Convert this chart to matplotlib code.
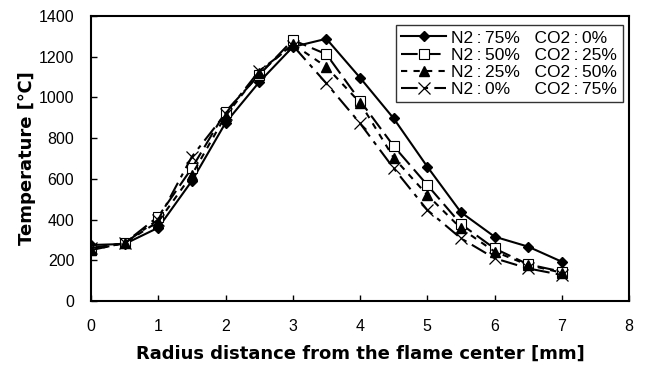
import numpy as np
import matplotlib
matplotlib.use("Agg")
import matplotlib.pyplot as plt

# radius positions [mm]
radius = [0, 0.5, 1, 1.5, 2, 2.5, 3, 3.5, 4, 4.5, 5, 5.5, 6, 6.5, 7]

# temperatures [C]
t_n75 = [275, 280, 360, 590, 875, 1075, 1248, 1288, 1097, 897, 660, 436, 316, 267, 193]
t_n50 = [250, 285, 415, 653, 930, 1110, 1282, 1212, 984, 761, 570, 378, 258, 180, 144]
t_n25 = [250, 285, 390, 620, 910, 1120, 1262, 1150, 974, 704, 521, 357, 243, 177, 139]
t_n0 = [260, 285, 400, 709, 920, 1130, 1255, 1069, 873, 652, 447, 308, 210, 160, 128]

sp = "\u2009"
labels = ["N2" + sp + ":" + sp + "75%   CO2" + sp + ":" + sp + "0%",
          "N2" + sp + ":" + sp + "50%   CO2" + sp + ":" + sp + "25%",
          "N2" + sp + ":" + sp + "25%   CO2" + sp + ":" + sp + "50%",
          "N2" + sp + ":" + sp + "0%     CO2" + sp + ":" + sp + "75%"]

plt.rcParams['font.family'] = ['Liberation Sans', 'DejaVu Sans']

fig = plt.figure(figsize=(6.46, 3.70), dpi=100)
ax = fig.add_axes([0.1409, 0.1865, 0.8328, 0.7703])

ax.plot(radius, t_n75, color='black', lw=1.5, linestyle='-',
        marker='D', ms=5.5, mfc='black', mec='black', label=labels[0])
ax.plot(radius, t_n50, color='black', lw=1.5, linestyle=(0, (8, 3)),
        marker='s', ms=7, mfc='white', mec='black', mew=0.8, label=labels[1])
ax.plot(radius, t_n25, color='black', lw=1.5, linestyle=(0, (3, 3)),
        marker='^', ms=7, mfc='black', mec='black', label=labels[2])
ax.plot(radius, t_n0, color='black', lw=1.5, linestyle=(0, (8, 3, 2, 3)),
        marker='x', ms=8, mew=0.9, label=labels[3])

ax.set_xlim(0, 8)
ax.set_ylim(0, 1400)
ax.set_xticks(range(0, 9))
ax.set_yticks(range(0, 1401, 200))
ax.tick_params(direction='in', length=4, width=1, labelsize=11.5)
ax.tick_params(axis='y', pad=12)
ax.tick_params(axis='x', pad=13)
for s in ax.spines.values():
    s.set_linewidth(1.5)

ax.set_xlabel('Radius distance from the flame center [mm]',
              fontsize=13, fontweight='bold', family='DejaVu Sans', labelpad=8)
ax.set_ylabel('Temperature [\u2103]', fontsize=13, fontweight='bold',
              family=['DejaVu Sans'], labelpad=2)

leg = ax.legend(loc='upper right', bbox_to_anchor=(0.9945, 0.98), fontsize=12.5,
                frameon=True, fancybox=False, handlelength=2.6, borderpad=0.3,
                labelspacing=0.12, handletextpad=0.3, borderaxespad=0.2)
leg.get_frame().set_edgecolor('black')
leg.get_frame().set_linewidth(1.0)

fig.savefig('out.png', dpi=100)
